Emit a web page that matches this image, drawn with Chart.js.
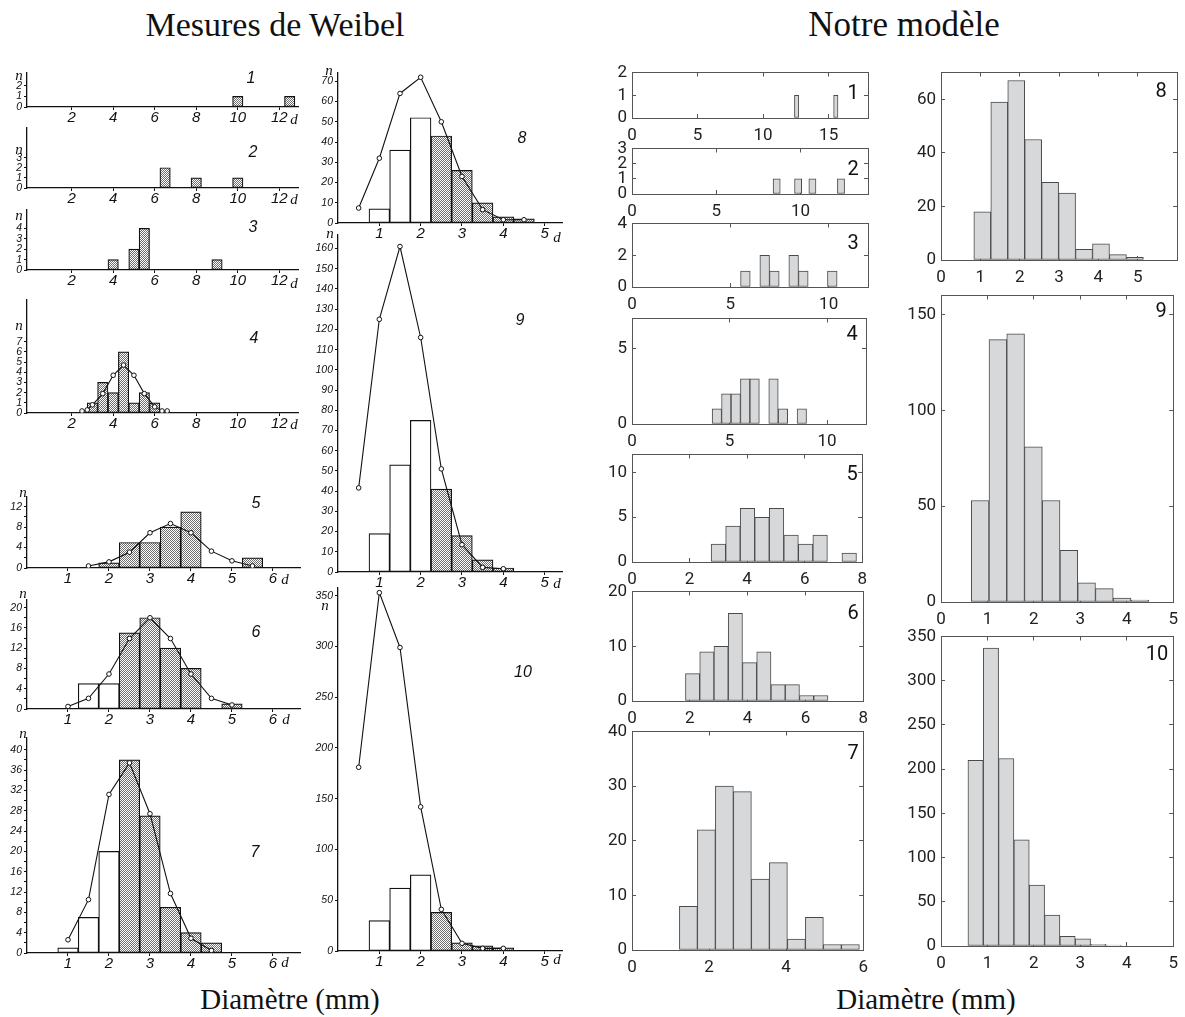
<!DOCTYPE html>
<html>
<head>
<meta charset="utf-8">
<title>Mesures de Weibel / Notre modèle</title>
<script src="https://cdn.jsdelivr.net/npm/chart.js@4.4.1/dist/chart.umd.min.js"></script>
<style>
  body { margin: 0; background: #fff; }
  #page { position: relative; width: 1185px; height: 1017px; overflow: hidden; background: #fff; }
  #page canvas { position: absolute; }
  .txt { position: absolute; transform: translate(-50%, -50%); white-space: nowrap; line-height: 1; color: #111; }
</style>
</head>
<body>
<div id="page"></div>
<script>
// ---------- Mesures de Weibel : bins of 0.5 mm, start = centre of first bin ----------
const wBin = 0.5;
const w1Start = 10,  w1Counts = [1, 0, 0, 0, 0, 1];
const w2Start = 6.5, w2Counts = [2, 0, 0, 1, 0, 0, 0, 1];
const w3Start = 4,   w3Counts = [1, 0, 2, 4, 0, 0, 0, 0, 0, 0, 1];
const w4Start = 3,   w4Counts = [1, 3, 2, 6, 1, 2, 1];
const w4PolyX = [2.5, 2.75, 3, 3.5, 4, 4.5, 5, 5.5, 6, 6.35, 6.6];
const w4PolyY = [0.2, 0.3, 0.8, 1.9, 3.7, 4.7, 3.7, 1.9, 0.6, 0.2, 0.2];
const w5Start = 2,   w5Counts = [1, 5, 5, 8, 11, 0, 0, 2];
const w5PolyX = [1.5, 2, 2.5, 3, 3.5, 4, 4.5, 5, 5.5];
const w5PolyY = [0.4, 1.2, 3.1, 6.9, 8.7, 6.9, 3.3, 1.4, 0.4];
const w6Start = 1.5, w6Counts = [5, 5, 15, 18, 12, 8, 0, 1];
const w6PolyX = [1, 1.5, 2, 2.5, 3, 3.5, 4, 4.5, 5];
const w6PolyY = [0.5, 2.1, 6.9, 13.9, 18, 13.9, 6.9, 2.1, 0.8];
const w7Start = 1,   w7Counts = [1, 7, 20, 38, 27, 9, 4, 2];
const w7PolyX = [1, 1.5, 2, 2.5, 3, 3.5, 4, 4.5];
const w7PolyY = [2.6, 10.5, 31.2, 37.4, 27.4, 11.7, 2.9, 0.5];
const w8Start = 1,   w8Counts = [7, 36, 52, 43, 26, 10, 3, 2];
const w8PolyX = [0.5, 1, 1.5, 2, 2.5, 3, 3.5, 4, 4.5];
const w8PolyY = [7.4, 32, 64, 72, 50, 23, 6.6, 1.6, 1.6];
const w9Start = 1,   w9Counts = [19, 53, 75, 41, 18, 6, 2];
const w9PolyX = [0.5, 1, 1.5, 2, 2.5, 3, 3.5, 4];
const w9PolyY = [41.6, 125, 161, 116, 51, 13.5, 2.3, 1.6];
const w10Start = 1,  w10Counts = [30, 62, 75, 38, 8, 5, 3];
const w10PolyX = [0.5, 1, 1.5, 2, 2.5, 3, 3.5, 4];
const w10PolyY = [181, 353, 299, 142, 41, 7.6, 2.6, 2.6];
// number of leading white (unshaded) bins per panel 1..10
const wWhite = [0, 0, 0, 0, 0, 2, 3, 3, 3, 3];

// tick labels
const wXTicksA = [2, 4, 6, 8, 10, 12];
const wXTicksB = [1, 2, 3, 4, 5, 6];
const wXTicksC = [1, 2, 3, 4, 5];
const w1YTicks = [0, 1, 2];
const w2YTicks = [0, 1, 2, 3];
const w3YTicks = [0, 1, 2, 3, 4];
const w4YTicks = [0, 1, 2, 3, 4, 5, 6, 7];
const w5YTicks = [0, 2, 4, 6, 8, 10, 12];
const w5YLabels = [0, 4, 8, 12];
const w6YTicks = [0, 2, 4, 6, 8, 10, 12, 14, 16, 18, 20];
const w6YLabels = [0, 4, 8, 12, 16, 20];
const w7YTicks = [0, 2, 4, 6, 8, 10, 12, 14, 16, 18, 20, 22, 24, 26, 28, 30, 32, 34, 36, 38, 40];
const w7YLabels = [0, 4, 8, 12, 16, 20, 24, 28, 32, 36, 40];
const w8YTicks = [0, 10, 20, 30, 40, 50, 60, 70];
const w9YTicks = [0, 10, 20, 30, 40, 50, 60, 70, 80, 90, 100, 110, 120, 130, 140, 150, 160];
const w10YTicks = [0, 50, 100, 150, 200, 250, 300, 350];

// ---------- Notre modèle : 10 bins each, lo = left edge of first bin ----------
const m1Lo = 12.39, m1W = 0.332, m1Counts = [1, 0, 0, 0, 0, 0, 0, 0, 0, 1];
const m2Lo = 8.37,  m2W = 0.424, m2Counts = [1, 0, 0, 1, 0, 1, 0, 0, 0, 1];
const m3Lo = 5.52,  m3W = 0.491, m3Counts = [1, 0, 2, 1, 0, 2, 1, 0, 0, 1];
const m4Lo = 4.11,  m4W = 0.484, m4Counts = [1, 2, 2, 3, 3, 0, 3, 1, 0, 1];
const m5Lo = 2.75,  m5W = 0.505, m5Counts = [2, 4, 6, 5, 6, 3, 2, 3, 0, 1];
const m6Lo = 1.85,  m6W = 0.493, m6Counts = [5, 9, 10, 16, 7, 9, 3, 3, 1, 1];
const m7Lo = 1.23,  m7W = 0.467, m7Counts = [8, 22, 30, 29, 13, 16, 2, 6, 1, 1];
const m8Lo = 0.835, m8W = 0.431, m8Counts = [18, 59, 67, 45, 29, 25, 4, 6, 2, 1];
const m9Lo = 0.652, m9W = 0.382, m9Counts = [53, 137, 140, 81, 53, 27, 10, 7, 2, 1];
const m10Lo = 0.58, m10W = 0.33, m10Counts = [210, 337, 212, 120, 69, 35, 11, 8, 2, 1];

const m1XTicks = [0, 5, 10, 15];
const m2XTicks = [0, 5, 10];
const m5XTicks = [0, 2, 4, 6, 8];
const m7XTicks = [0, 2, 4, 6];
const m8XTicks = [0, 1, 2, 3, 4, 5, 6];
const m8XLabels = [0, 1, 2, 3, 4, 5];
const m9XTicks = [0, 1, 2, 3, 4, 5];
const m1YTicks = [0, 1, 2];
const m2YTicks = [0, 1, 2, 3];
const m3YTicks = [0, 2, 4];
const m4YTicks = [0, 5];
const m5YTicks = [0, 5, 10];
const m6YTicks = [0, 10, 20];
const m7YTicks = [0, 10, 20, 30, 40];
const m8YTicks = [0, 20, 40, 60];
const m9YTicks = [0, 50, 100, 150];
const m10YTicks = [0, 50, 100, 150, 200, 250, 300, 350];

// ---------- drawing ----------
const page = document.getElementById('page');
const PL = 46, PR = 14, PT = 14, PB = 34;
const wTickFont = { family: 'Liberation Sans', style: 'italic', size: 15, lineHeight: 1 };
const wYFont = { family: 'Liberation Sans', style: 'italic', size: 10.5, lineHeight: 1 };
const mFont = { family: 'Roboto', size: 17, lineHeight: 1 };

// fine grey dotted fill used for the shaded bins
function stipple() {
    const c = document.createElement('canvas');
    c.width = 2; c.height = 2;
    const g = c.getContext('2d');
    g.fillStyle = '#fff';
    g.fillRect(0, 0, 2, 2);
    g.fillStyle = '#6e6e6e';
    g.fillRect(0, 0, 1, 1);
    g.fillRect(1, 1, 1, 1);
    return g.createPattern(c, 'repeat');
}
const dots = stipple();

function text(s, x, y, font) {
    const d = document.createElement('div');
    d.className = 'txt';
    d.textContent = s;
    d.style.left = x + 'px';
    d.style.top = y + 'px';
    d.style.font = font;
    page.appendChild(d);
}

function addCanvas(r) {
    const cv = document.createElement('canvas');
    const w = r[2] + PL + PR, h = r[3] + PT + PB;
    cv.width = w; cv.height = h;
    cv.style.left = (r[0] - PL) + 'px';
    cv.style.top = (r[1] - PT) + 'px';
    cv.style.width = w + 'px';
    cv.style.height = h + 'px';
    page.appendChild(cv);
    return cv;
}

function histBars(lo, bw, counts) {
    return counts.map((c, i) => ({ x: lo + (i + 0.5) * bw, y: c || null }));
}

function fixTicks(vals) {
    return s => { s.ticks = vals.map(v => ({ value: v })); };
}

function weibelPanel(p) {
    const bars = histBars(p.start - wBin / 2, wBin, p.counts);
    const datasets = [{
        type: 'bar',
        order: 2,
        data: bars,
        backgroundColor: bars.map((b, i) => i < p.white ? '#fff' : dots),
        borderColor: '#111',
        borderWidth: 1.2,
        borderSkipped: false,
        barPercentage: 1,
        categoryPercentage: 1
    }];
    if (p.polyX) {
        datasets.push({
            type: 'line',
            order: 1,
            data: p.polyX.map((x, i) => ({ x: x, y: p.polyY[i] })),
            borderColor: '#111',
            borderWidth: 1.1,
            pointRadius: 2.3,
            pointBackgroundColor: '#fff',
            pointBorderColor: '#111',
            pointBorderWidth: 1,
            tension: 0
        });
    }
    const yLabels = p.yLabels || p.yTicks;
    new Chart(addCanvas(p.rect), {
        type: 'bar',
        data: { datasets: datasets },
        options: {
            animation: false, responsive: false, devicePixelRatio: 1, events: [],
            layout: { padding: { left: 0, top: PT, right: PR, bottom: 0 } },
            plugins: { legend: { display: false }, tooltip: { enabled: false } },
            scales: {
                x: {
                    type: 'linear', min: p.x[0], max: p.x[1], offset: false,
                    afterBuildTicks: fixTicks(p.xTicks),
                    afterFit: s => { s.height = PB; },
                    grid: { drawOnChartArea: false, offset: false, tickLength: 3, color: '#111' },
                    border: { color: '#111', width: 1.3 },
                    ticks: { autoSkip: false, maxRotation: 0, padding: 0, color: '#111', font: wTickFont,
                             callback: v => String(v) }
                },
                y: {
                    type: 'linear', min: 0, max: p.y,
                    afterBuildTicks: fixTicks(p.yTicks),
                    afterFit: s => { s.width = PL; },
                    grid: { drawOnChartArea: false, tickLength: 3, color: '#111' },
                    border: { color: '#111', width: 1.3 },
                    ticks: { autoSkip: false, padding: 2, color: '#111', font: wYFont,
                             callback: v => yLabels.includes(v) ? String(v) : '' }
                }
            }
        }
    });
}

function modelPanel(p) {
    const bars = histBars(p.lo, p.bw, p.counts);
    const xLabels = p.xLabels || p.xTicks;
    const frame = { drawOnChartArea: false, offset: false, tickLength: -4, color: '#555' };
    const edge = { color: '#555', width: 1 };
    new Chart(addCanvas(p.rect), {
        type: 'bar',
        data: {
            datasets: [{
                data: bars,
                backgroundColor: '#d7d8da',
                borderColor: '#4a4a4a',
                borderWidth: 1,
                borderSkipped: false,
                barPercentage: 1,
                categoryPercentage: 1
            }]
        },
        options: {
            animation: false, responsive: false, devicePixelRatio: 1, events: [],
            layout: { padding: { left: 0, top: PT, right: PR, bottom: 0 } },
            plugins: { legend: { display: false }, tooltip: { enabled: false } },
            scales: {
                x: {
                    type: 'linear', position: 'bottom', min: 0, max: p.x, offset: false,
                    afterBuildTicks: fixTicks(p.xTicks),
                    afterFit: s => { s.height = PB; },
                    grid: frame, border: edge,
                    ticks: { autoSkip: false, maxRotation: 0, padding: 13, color: '#222', font: mFont,
                             callback: v => xLabels.includes(v) ? String(v) : '' }
                },
                x2: {
                    type: 'linear', position: 'top', min: 0, max: p.x, offset: false,
                    afterBuildTicks: fixTicks(p.xTicks),
                    afterFit: s => { s.height = 0; },
                    grid: frame, border: edge, ticks: { display: false }
                },
                y: {
                    type: 'linear', position: 'left', min: 0, max: p.y,
                    afterBuildTicks: fixTicks(p.yTicks),
                    afterFit: s => { s.width = PL; },
                    grid: frame, border: edge,
                    ticks: { autoSkip: false, padding: 9, color: '#222', font: mFont, callback: v => String(v) }
                },
                y2: {
                    type: 'linear', position: 'right', min: 0, max: p.y,
                    afterBuildTicks: fixTicks(p.yTicks),
                    afterFit: s => { s.width = 0; },
                    grid: frame, border: edge, ticks: { display: false }
                }
            }
        }
    });
}

document.addEventListener('DOMContentLoaded', function () {

    // titles
    text('Mesures de Weibel', 275, 25, '34px "Liberation Serif"');
    text('Notre modèle', 904, 25, '35px "Liberation Serif"');
    text('Diamètre (mm)', 290, 999, '29px "Liberation Serif"');
    text('Diamètre (mm)', 926, 999, '29px "Liberation Serif"');

    // Weibel, first column
    weibelPanel({ rect: [27, 73, 271, 34], x: [-0.15, 12.9], y: 3.2, xTicks: wXTicksA, yTicks: w1YTicks,
                  start: w1Start, counts: w1Counts, white: wWhite[0] });
    weibelPanel({ rect: [27, 128, 271, 60], x: [-0.15, 12.9], y: 5.92, xTicks: wXTicksA, yTicks: w2YTicks,
                  start: w2Start, counts: w2Counts, white: wWhite[1] });
    weibelPanel({ rect: [27, 210, 271, 60], x: [-0.15, 12.9], y: 5.77, xTicks: wXTicksA, yTicks: w3YTicks,
                  start: w3Start, counts: w3Counts, white: wWhite[2] });
    weibelPanel({ rect: [27, 300, 271, 113], x: [-0.15, 12.9], y: 11.08, xTicks: wXTicksA, yTicks: w4YTicks,
                  start: w4Start, counts: w4Counts, white: wWhite[3], polyX: w4PolyX, polyY: w4PolyY });
    weibelPanel({ rect: [27, 497, 273, 71], x: [0, 6.66], y: 13.9, xTicks: wXTicksB, yTicks: w5YTicks, yLabels: w5YLabels,
                  start: w5Start, counts: w5Counts, white: wWhite[4], polyX: w5PolyX, polyY: w5PolyY });
    weibelPanel({ rect: [27, 600, 273, 109], x: [0, 6.66], y: 21.5, xTicks: wXTicksB, yTicks: w6YTicks, yLabels: w6YLabels,
                  start: w6Start, counts: w6Counts, white: wWhite[5], polyX: w6PolyX, polyY: w6PolyY });
    weibelPanel({ rect: [27, 738, 273, 215], x: [0, 6.66], y: 42.3, xTicks: wXTicksB, yTicks: w7YTicks, yLabels: w7YLabels,
                  start: w7Start, counts: w7Counts, white: wWhite[6], polyX: w7PolyX, polyY: w7PolyY });

    // Weibel, second column
    weibelPanel({ rect: [338, 73, 224, 150], x: [0, 5.42], y: 74.1, xTicks: wXTicksC, yTicks: w8YTicks,
                  start: w8Start, counts: w8Counts, white: wWhite[7], polyX: w8PolyX, polyY: w8PolyY });
    weibelPanel({ rect: [338, 235, 224, 337], x: [0, 5.42], y: 166.7, xTicks: wXTicksC, yTicks: w9YTicks,
                  start: w9Start, counts: w9Counts, white: wWhite[8], polyX: w9PolyX, polyY: w9PolyY });
    weibelPanel({ rect: [338, 588, 224, 363], x: [0, 5.42], y: 357.6, xTicks: wXTicksC, yTicks: w10YTicks,
                  start: w10Start, counts: w10Counts, white: wWhite[9], polyX: w10PolyX, polyY: w10PolyY });

    // Weibel annotations
    const nFont = 'italic 15px "Liberation Serif"';
    const numFont = 'italic 16px "Liberation Sans"';
    [[19, 75], [19, 149], [19, 215], [19, 325], [23, 492], [23, 593], [23, 733], [329, 70], [330, 233]]
        .forEach(a => text('n', a[0], a[1], nFont));
    text('n', 325, 605, nFont);
    [[294, 119], [294, 199], [294, 283], [294, 424], [285, 579], [286, 719], [285, 962], [557, 237], [557, 583], [557, 959]]
        .forEach(a => text('d', a[0], a[1], nFont));
    [['1', 251, 78], ['2', 253, 152], ['3', 253, 227], ['4', 254, 338], ['5', 256, 503], ['6', 256, 632],
     ['7', 255, 852], ['8', 522, 138], ['9', 520, 320], ['10', 523, 672]]
        .forEach(a => text(a[0], a[1], a[2], numFont));

    // Notre modèle, first column
    modelPanel({ rect: [632, 69, 236, 49], x: 18, y: 2, xTicks: m1XTicks, yTicks: m1YTicks, lo: m1Lo, bw: m1W, counts: m1Counts });
    modelPanel({ rect: [632, 145, 236, 49], x: 14, y: 3, xTicks: m2XTicks, yTicks: m2YTicks, lo: m2Lo, bw: m2W, counts: m2Counts });
    modelPanel({ rect: [632, 220, 236, 67], x: 12, y: 4, xTicks: m2XTicks, yTicks: m3YTicks, lo: m3Lo, bw: m3W, counts: m3Counts });
    modelPanel({ rect: [632, 315, 234, 109], x: 12, y: 7, xTicks: m2XTicks, yTicks: m4YTicks, lo: m4Lo, bw: m4W, counts: m4Counts });
    modelPanel({ rect: [632, 451, 234, 111], x: 8, y: 12, xTicks: m5XTicks, yTicks: m5YTicks, lo: m5Lo, bw: m5W, counts: m5Counts });
    modelPanel({ rect: [632, 588, 235, 113], x: 8, y: 20, xTicks: m5XTicks, yTicks: m6YTicks, lo: m6Lo, bw: m6W, counts: m6Counts });
    modelPanel({ rect: [632, 728, 235, 222], x: 6, y: 40, xTicks: m7XTicks, yTicks: m7YTicks, lo: m7Lo, bw: m7W, counts: m7Counts });

    // Notre modèle, second column
    modelPanel({ rect: [941, 69, 236, 191], x: 6, y: 70, xTicks: m8XTicks, xLabels: m8XLabels, yTicks: m8YTicks, lo: m8Lo, bw: m8W, counts: m8Counts });
    modelPanel({ rect: [941, 292, 236, 310], x: 5, y: 160, xTicks: m9XTicks, yTicks: m9YTicks, lo: m9Lo, bw: m9W, counts: m9Counts });
    modelPanel({ rect: [941, 633, 236, 313], x: 5, y: 350, xTicks: m9XTicks, yTicks: m10YTicks, lo: m10Lo, bw: m10W, counts: m10Counts });

    const mNum = '20px Roboto';
    [['1', 853, 92], ['2', 853, 168], ['3', 853, 242], ['4', 852, 333], ['5', 852, 473], ['6', 853, 612],
     ['7', 853, 752], ['8', 1161, 90], ['9', 1161, 310], ['10', 1157, 653]]
        .forEach(a => text(a[0], a[1], a[2], mNum));
});
</script>
</body>
</html>
